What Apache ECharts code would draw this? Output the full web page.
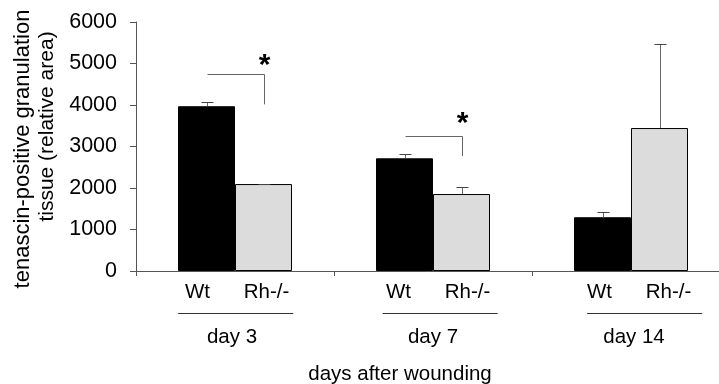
<!DOCTYPE html>
<html>
<head>
<meta charset="utf-8">
<script src="https://cdn.jsdelivr.net/npm/echarts@6/dist/echarts.min.js"></script>
<style>
html, body { margin: 0; padding: 0; background: #fff; }
#chart { width: 719px; height: 384px; }
</style>
</head>
<body>
<div id="chart"></div>
<script>
// data
const days = ['day 3', 'day 7', 'day 14'];
const groups = ['Wt', 'Rh-/-'];
const wtMean = [3970, 2715, 1295];
const wtErr = [95, 110, 135];
const rhMean = [2095, 1855, 3445];
const rhErr = [10, 175, 2020];
// significance brackets: [day index, bracket level, leg end, star level]
const brackets = [
    [0, 4755, 4015, 5130],
    [1, 3260, 2770, 3735],
];
const yTicks = [0, 1000, 2000, 3000, 4000, 5000, 6000];
const yTitle = ['tenascin-positive granulation', 'tissue (relative area)'];
const xTitle = 'days after wounding';

const FONT = 'Liberation Sans, Arial, sans-serif';
const BAR_W = 57;
const LINE = '#555';

const chart = echarts.init(document.getElementById('chart'));

function crisp(v) {
    return Math.round(v) + 0.5;
}

// error bar (upper whisker only) for one of the two bars in a group
function errorBars(side) {
    return (params, api) => {
        const base = api.coord([api.value(0), api.value(1)]);
        const top = api.coord([api.value(0), api.value(1) + api.value(2)]);
        const cx = crisp(base[0] + side * BAR_W / 2);
        const ty = crisp(top[1]);
        return {
            type: 'group',
            children: [
                {
                    type: 'line',
                    shape: { x1: cx, y1: base[1], x2: cx, y2: ty },
                    style: { stroke: '#666', lineWidth: 1 },
                },
                {
                    type: 'line',
                    shape: { x1: cx - 6, y1: ty, x2: cx + 6, y2: ty },
                    style: { stroke: '#444', lineWidth: 1 },
                },
            ],
        };
    };
}

function textStyle(text, size) {
    return {
        text: text,
        fontSize: size,
        fontFamily: FONT,
        fill: '#000',
        align: 'center',
        verticalAlign: 'middle',
        textAlign: 'center',
        textVerticalAlign: 'middle',
    };
}

const options = {
    animation: false,
    textStyle: { fontFamily: FONT },
    grid: [
        { left: 136, top: 22, bottom: 113, width: 594, outerBoundsMode: 'none' },
        // the printed labels sit on slightly different bands than the bars
        { left: 131.5, top: 22, bottom: 113, width: 603, outerBoundsMode: 'none' },
        { left: 133.4, top: 22, bottom: 113, width: 613.5, outerBoundsMode: 'none' },
    ],
    xAxis: [
        {
            type: 'category',
            gridIndex: 0,
            data: days,
            axisLine: { lineStyle: { color: LINE, width: 1 } },
            axisTick: { show: true, length: 5, lineStyle: { color: LINE } },
            axisLabel: { show: false },
        },
        {
            type: 'category',
            gridIndex: 1,
            data: days,
            axisLine: { show: false },
            axisTick: { show: false },
            axisLabel: {
                interval: 0,
                margin: 9,
                formatter: (v) => `{g|${groups[0]}}{g|${groups[1]}}\n{day|${v}}`,
                rich: {
                    g: {
                        width: 69,
                        align: 'center',
                        fontSize: 20.5,
                        lineHeight: 24,
                        color: '#000',
                        fontFamily: FONT,
                    },
                    day: {
                        fontSize: 20.5,
                        lineHeight: 66,
                        align: 'center',
                        color: '#000',
                        fontFamily: FONT,
                    },
                },
            },
        },
        {
            // group underlines
            type: 'category',
            gridIndex: 2,
            data: days,
            axisLine: { show: false },
            axisTick: { show: false },
            axisLabel: {
                interval: 0,
                margin: 41.5,
                formatter: () => '{ln| }',
                rich: {
                    ln: {
                        width: 115,
                        height: 1,
                        lineHeight: 2,
                        fontSize: 1,
                        align: 'center',
                        backgroundColor: '#333',
                    },
                },
            },
        },
    ],
    yAxis: [
        {
            type: 'value',
            gridIndex: 0,
            min: yTicks[0],
            max: yTicks[yTicks.length - 1],
            interval: yTicks[1] - yTicks[0],
            axisLine: { show: true, lineStyle: { color: LINE, width: 1 } },
            axisTick: { show: true, length: 6, lineStyle: { color: LINE } },
            splitLine: { show: false },
            axisLabel: {
                margin: 19,
                fontSize: 21.5,
                color: '#000',
                fontFamily: FONT,
                formatter: (v) => String(v),
            },
        },
        { type: 'value', gridIndex: 1, show: false },
        { type: 'value', gridIndex: 2, show: false },
    ],
    graphic: [
        {
            type: 'text',
            x: 22.5,
            y: 149,
            rotation: Math.PI / 2,
            style: textStyle(yTitle[0], 22),
        },
        {
            type: 'text',
            x: 47.5,
            y: 126.5,
            rotation: Math.PI / 2,
            style: textStyle(yTitle[1], 21),
        },
        {
            type: 'text',
            x: 400,
            y: 374.5,
            style: textStyle(xTitle, 20.5),
        },
    ],
    series: [
        {
            name: groups[0],
            type: 'bar',
            xAxisIndex: 0,
            yAxisIndex: 0,
            data: wtMean,
            barWidth: BAR_W,
            barGap: '0%',
            itemStyle: { color: '#000', borderColor: '#000', borderWidth: 1 },
        },
        {
            name: groups[1],
            type: 'bar',
            xAxisIndex: 0,
            yAxisIndex: 0,
            data: rhMean,
            barWidth: BAR_W,
            barGap: '0%',
            itemStyle: { color: '#dcdcdc', borderColor: '#000', borderWidth: 1 },
        },
        {
            type: 'custom',
            xAxisIndex: 0,
            yAxisIndex: 0,
            z: 5,
            renderItem: errorBars(-1),
            encode: { x: 0, y: 1 },
            data: wtMean.map((m, i) => [i, m, wtErr[i]]),
        },
        {
            type: 'custom',
            xAxisIndex: 0,
            yAxisIndex: 0,
            z: 5,
            renderItem: errorBars(1),
            encode: { x: 0, y: 1 },
            data: rhMean.map((m, i) => [i, m, rhErr[i]]),
        },
        {
            type: 'custom',
            xAxisIndex: 0,
            yAxisIndex: 0,
            z: 5,
            encode: { x: 0, y: 1 },
            renderItem: (params, api) => {
                const i = api.value(0);
                const lvl = api.coord([i, api.value(1)]);
                const leg = api.coord([i, api.value(2)]);
                const star = api.coord([i, api.value(3)]);
                const xl = crisp(lvl[0] - BAR_W / 2);
                const xr = crisp(lvl[0] + BAR_W / 2);
                const y = crisp(lvl[1]);
                return {
                    type: 'group',
                    children: [
                        {
                            type: 'polyline',
                            shape: { points: [[xl, y], [xr, y], [xr, leg[1]]] },
                            style: { stroke: '#666', fill: null, lineWidth: 1 },
                        },
                        {
                            type: 'text',
                            x: xr,
                            y: star[1] + 8,
                            style: {
                                text: '*',
                                font: 'bold 30px ' + FONT,
                                fill: '#000',
                                align: 'center',
                                verticalAlign: 'middle',
                                textAlign: 'center',
                                textVerticalAlign: 'middle',
                            },
                        },
                    ],
                };
            },
            data: brackets,
        },
    ],
};

chart.setOption(options);
</script>
</body>
</html>
